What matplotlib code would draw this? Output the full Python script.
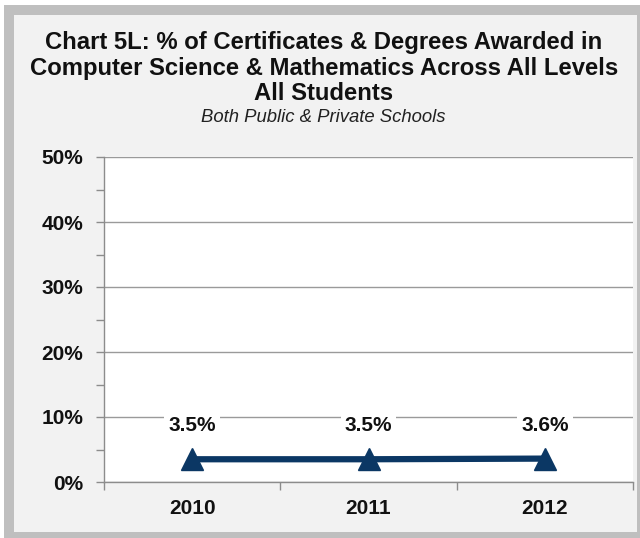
import matplotlib

matplotlib.use("Agg")
import matplotlib.pyplot as plt
from matplotlib.patches import Rectangle
from matplotlib.ticker import FixedLocator, PercentFormatter

years = ["2010", "2011", "2012"]
share = [0.035, 0.035, 0.036]
share_labels = ["3.5%", "3.5%", "3.6%"]
y_ticks = [0.0, 0.1, 0.2, 0.3, 0.4, 0.5]

NAVY = "#0b3764"
W, H = 640, 538

plt.rcParams["font.family"] = ["Liberation Sans", "DejaVu Sans"]

fig = plt.figure(figsize=(W / 100, H / 100), dpi=100, facecolor="white")


def px_rect(x0, y0, x1, y1, color):
    # rettangolo in pixel (origine in alto a sinistra)
    fig.patches.append(Rectangle((x0 / W, 1 - y1 / H), (x1 - x0) / W, (y1 - y0) / H,
                                 transform=fig.transFigure, facecolor=color,
                                 edgecolor="none", zorder=-10))


px_rect(4, 5, 640, 538, "#bfbfbf")
px_rect(14, 15, 637, 532, "#f2f2f2")

title_lines = ["Chart 5L: % of Certificates & Degrees Awarded in",
               "Computer Science & Mathematics Across All Levels",
               "All Students"]
for i, line in enumerate(title_lines):
    fig.text(324 / W, 1 - (42 + 26 * i) / H, line, ha="center", va="center",
             fontsize=17.2, fontweight="bold", color="#111111")
fig.text(323 / W, 1 - 118 / H, "Both Public & Private Schools", ha="center",
         va="center", fontsize=13.3, style="italic", color="#222222")

ax = fig.add_axes([104 / W, (H - 482) / H, (633 - 104) / W, (482 - 157) / H])
ax.set_facecolor("white")

x = list(range(len(years)))
ax.plot(x, share, color=NAVY, linewidth=4.5, marker="^", markersize=16,
        solid_capstyle="butt", zorder=3, clip_on=False)
for xi, yi, lab in zip(x, share, share_labels):
    ax.annotate(lab, (xi, yi), xytext=(0, 24), textcoords="offset points",
                ha="center", va="center", fontsize=15, fontweight="bold",
                color="#111111",
                bbox=dict(facecolor="white", edgecolor="none", pad=3))

ax.set_xlim(-0.5, len(years) - 0.5)
ax.set_ylim(0, 0.5)
ax.set_xticks(x)
ax.set_xticklabels(years, fontsize=15, fontweight="bold")
ax.xaxis.set_minor_locator(FixedLocator([i - 0.5 for i in range(len(years) + 1)]))
ax.tick_params(axis="x", which="major", length=0, pad=12, colors="#111111")
ax.tick_params(axis="x", which="minor", length=6, width=1, color="#8c8c8c")

ax.set_yticks(y_ticks)
ax.yaxis.set_major_formatter(PercentFormatter(1.0, decimals=0))
ax.yaxis.set_minor_locator(FixedLocator([0.05, 0.15, 0.25, 0.35, 0.45]))
ax.tick_params(axis="y", which="both", length=6, width=1, color="#8c8c8c",
               labelsize=15, pad=9)
for lab in ax.get_yticklabels():
    lab.set_fontweight("bold")
    lab.set_color("#111111")

ax.grid(axis="y", which="major", color="#9a9a9a", linewidth=1)
ax.set_axisbelow(True)
for side in ("top", "right"):
    ax.spines[side].set_visible(False)
for side in ("left", "bottom"):
    ax.spines[side].set_color("#8c8c8c")
    ax.spines[side].set_linewidth(1)

fig.savefig("out.png", dpi=100, facecolor=fig.get_facecolor())
